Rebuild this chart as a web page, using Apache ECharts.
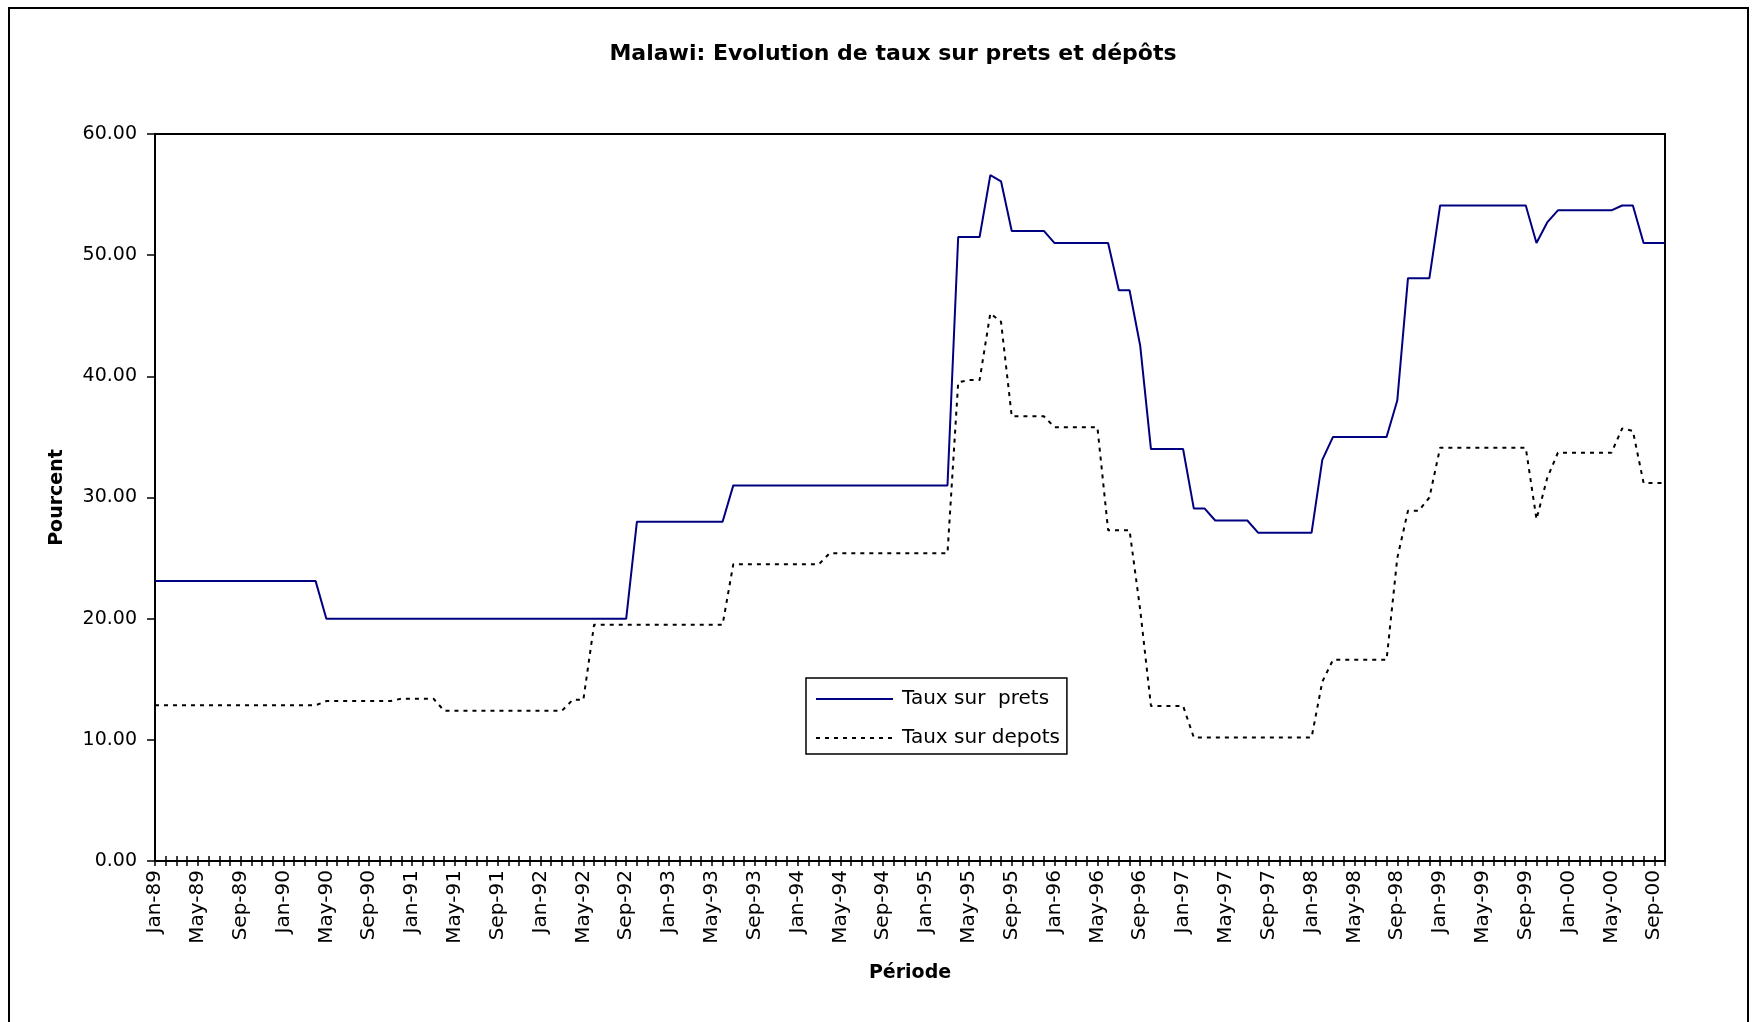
<!DOCTYPE html>
<html>
<head>
<meta charset="utf-8">
<title>Malawi: Evolution de taux sur prets et dépôts</title>
<script src="https://cdn.jsdelivr.net/npm/echarts@6/dist/echarts.min.js"></script>
<style>
  html, body { margin: 0; padding: 0; background: #fff; }
  #chart { width: 1763px; height: 1022px; }
</style>
</head>
<body>
<div id="chart"></div>
<script>
// categories: monthly, Jan-89 .. Oct-00
var monthNames = ['Jan', 'Feb', 'Mar', 'Apr', 'May', 'Jun', 'Jul', 'Aug', 'Sep', 'Oct', 'Nov', 'Dec'];
var yearLabels = ['89', '90', '91', '92', '93', '94', '95', '96', '97', '98', '99', '00'];
var periodes = [];
for (var y = 0; y < yearLabels.length; y++) {
    for (var m = 0; m < 12; m++) {
        if (y === yearLabels.length - 1 && m > 9) break;
        periodes.push(monthNames[m] + '-' + yearLabels[y]);
    }
}

// Taux sur prets (lending rate, %)
var tauxPrets = [
    23.1, 23.1, 23.1, 23.1, 23.1, 23.1, 23.1, 23.1, 23.1, 23.1, 23.1, 23.1,
    23.1, 23.1, 23.1, 23.1, 20.0, 20.0, 20.0, 20.0, 20.0, 20.0, 20.0, 20.0,
    20.0, 20.0, 20.0, 20.0, 20.0, 20.0, 20.0, 20.0, 20.0, 20.0, 20.0, 20.0,
    20.0, 20.0, 20.0, 20.0, 20.0, 20.0, 20.0, 20.0, 20.0, 28.0, 28.0, 28.0,
    28.0, 28.0, 28.0, 28.0, 28.0, 28.0, 31.0, 31.0, 31.0, 31.0, 31.0, 31.0,
    31.0, 31.0, 31.0, 31.0, 31.0, 31.0, 31.0, 31.0, 31.0, 31.0, 31.0, 31.0,
    31.0, 31.0, 31.0, 51.5, 51.5, 51.5, 56.6, 56.1, 52.0, 52.0, 52.0, 52.0,
    51.0, 51.0, 51.0, 51.0, 51.0, 51.0, 47.1, 47.1, 42.5, 34.0, 34.0, 34.0,
    34.0, 29.1, 29.1, 28.1, 28.1, 28.1, 28.1, 27.1, 27.1, 27.1, 27.1, 27.1,
    27.1, 33.1, 35.0, 35.0, 35.0, 35.0, 35.0, 35.0, 38.0, 48.1, 48.1, 48.1,
    54.1, 54.1, 54.1, 54.1, 54.1, 54.1, 54.1, 54.1, 54.1, 51.0, 52.7, 53.7,
    53.7, 53.7, 53.7, 53.7, 53.7, 54.1, 54.1, 51.0, 51.0, 51.0
];

// Taux sur depots (deposit rate, %)
var tauxDepots = [
    12.85, 12.85, 12.85, 12.85, 12.85, 12.85, 12.85, 12.85, 12.85, 12.85, 12.85, 12.85,
    12.85, 12.85, 12.85, 12.85, 13.2, 13.2, 13.2, 13.2, 13.2, 13.2, 13.2, 13.4,
    13.4, 13.4, 13.4, 12.4, 12.4, 12.4, 12.4, 12.4, 12.4, 12.4, 12.4, 12.4,
    12.4, 12.4, 12.4, 13.3, 13.3, 19.5, 19.5, 19.5, 19.5, 19.5, 19.5, 19.5,
    19.5, 19.5, 19.5, 19.5, 19.5, 19.5, 24.5, 24.5, 24.5, 24.5, 24.5, 24.5,
    24.5, 24.5, 24.5, 25.4, 25.4, 25.4, 25.4, 25.4, 25.4, 25.4, 25.4, 25.4,
    25.4, 25.4, 25.4, 39.5, 39.7, 39.7, 45.2, 44.5, 36.7, 36.7, 36.7, 36.7,
    35.8, 35.8, 35.8, 35.8, 35.8, 27.3, 27.3, 27.3, 20.7, 12.8, 12.8, 12.8,
    12.8, 10.2, 10.2, 10.2, 10.2, 10.2, 10.2, 10.2, 10.2, 10.2, 10.2, 10.2,
    10.2, 14.8, 16.6, 16.6, 16.6, 16.6, 16.6, 16.6, 25.0, 28.9, 28.9, 30.0,
    34.1, 34.1, 34.1, 34.1, 34.1, 34.1, 34.1, 34.1, 34.1, 28.2, 31.6, 33.7,
    33.7, 33.7, 33.7, 33.7, 33.7, 35.7, 35.5, 31.2, 31.2, 31.2
];

var yTicks = [0, 10, 20, 30, 40, 50, 60];

var fontName = '"DejaVu Sans", Arial, sans-serif';

var chart = echarts.init(document.getElementById('chart'));
chart.setOption({
    animation: false,
    backgroundColor: '#fff',
    textStyle: { fontFamily: fontName, color: '#000' },
    title: {
        text: 'Malawi: Evolution de taux sur prets et dépôts',
        left: 888,
        top: 38,
        textAlign: 'center',
        textStyle: { fontFamily: fontName, fontSize: 22, fontWeight: 'bold', color: '#000' }
    },
    graphic: [{
        type: 'rect',
        shape: { x: 9, y: 8, width: 1739, height: 1040 },
        style: { fill: 'none', stroke: '#000', lineWidth: 2 },
        silent: true
    }],
    legend: {
        orient: 'vertical',
        left: 806,
        top: 678,
        itemWidth: 77,
        itemHeight: 20,
        itemGap: 19,
        padding: [11, 7, 6, 9],
        borderColor: '#000',
        borderWidth: 1.5,
        backgroundColor: '#fff',
        itemStyle: { opacity: 0 },
        textStyle: { fontFamily: fontName, fontSize: 20, color: '#000', lineHeight: 20, padding: [0, 0, 0, 4] },
        data: ['Taux sur  prets', 'Taux sur depots']
    },
    grid: {
        left: 155,
        top: 134,
        width: 1510,
        height: 727,
        show: true,
        borderColor: '#000',
        borderWidth: 2,
        backgroundColor: 'transparent'
    },
    xAxis: [{
        type: 'category',
        data: periodes,
        boundaryGap: false,
        position: 'bottom',
        name: 'Période',
        nameLocation: 'middle',
        nameGap: 103,
        nameTextStyle: { fontFamily: fontName, fontSize: 19, fontWeight: 'bold', color: '#000' },
        axisLine: { lineStyle: { color: '#000', width: 2 } },
        axisTick: { interval: 0, length: 5, lineStyle: { color: '#000', width: 1.5 } },
        axisLabel: { interval: 3, rotate: 90, margin: 9, fontSize: 20, color: '#000', fontFamily: fontName },
        splitLine: { show: false }
    }, {
        type: 'category',
        data: periodes,
        boundaryGap: false,
        position: 'bottom',
        axisLine: { show: false },
        axisTick: { interval: 0, inside: true, length: 5, lineStyle: { color: '#000', width: 1.5 } },
        axisLabel: { show: false },
        splitLine: { show: false }
    }],
    yAxis: {
        type: 'value',
        min: yTicks[0],
        max: yTicks[yTicks.length - 1],
        interval: 10,
        name: 'Pourcent',
        nameLocation: 'middle',
        nameRotate: 90,
        nameGap: 88,
        nameTextStyle: { fontFamily: fontName, fontSize: 19, fontWeight: 'bold', color: '#000' },
        axisLine: { show: true, lineStyle: { color: '#000', width: 2 } },
        axisTick: { show: true, length: 8, lineStyle: { color: '#000', width: 1.5 } },
        axisLabel: {
            margin: 18,
            fontSize: 19,
            color: '#000',
            fontFamily: fontName,
            formatter: function (v) { return v.toFixed(2); }
        },
        splitLine: { show: false }
    },
    series: [{
        name: 'Taux sur  prets',
        type: 'line',
        data: tauxPrets,
        symbol: 'none',
        lineStyle: { color: '#000080', width: 2 },
        itemStyle: { color: '#000080' }
    }, {
        name: 'Taux sur depots',
        type: 'line',
        data: tauxDepots,
        symbol: 'none',
        lineStyle: { color: '#000', width: 2, type: [4, 5] },
        itemStyle: { color: '#000' }
    }]
});
</script>
</body>
</html>
